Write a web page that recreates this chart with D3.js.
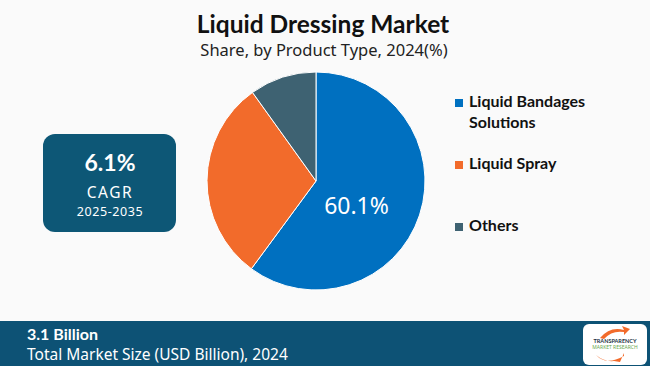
<!DOCTYPE html>
<html lang="en">
<head>
    <meta charset="UTF-8">
    <title>Liquid Dressing Market</title>
    <script src="https://d3js.org/d3.v7.min.js"></script>
    <style>
      body{ margin:0; background:#fafafa; }
      svg{ display:block; }
    </style>
</head>
<body>
    <script>
        // chart data
        const categories = ["Liquid Bandages Solutions", "Liquid Spray", "Others"];
        const legendLines = [["Liquid Bandages", "Solutions"], ["Liquid Spray"], ["Others"]];
        const shares = [60.1, 30.0, 9.9];
        const colors = ["#0070c0", "#f26b2b", "#3e6272"];
        const cagr = "6.1%";
        const cagrPeriod = "2025-2035";
        const marketSize = "3.1 Billion";

        let width = 650;
        let height = 366;
        const boldFont = "Lato, 'Open Sans', sans-serif";
        const lightFont = "'Noto Sans', Lato, sans-serif";

        const svg = d3.select("body").append("svg")
            .attr("width", width)
            .attr("height", height);

        svg.append("rect").attr("width", width).attr("height", height).attr("fill", "#fafafa");

        // titles
        svg.append("text")
            .attr("x", 323).attr("y", 33)
            .attr("text-anchor", "middle")
            .style("font-family", boldFont).style("font-weight", "bold").style("font-size", "24.5px")
            .style("fill", "#111")
            .text("Liquid Dressing Market");
        svg.append("text")
            .attr("x", 324).attr("y", 56)
            .attr("text-anchor", "middle")
            .style("font-family", lightFont).style("font-size", "16.5px")
            .style("fill", "#222")
            .text("Share, by Product Type, 2024(%)");

        // pie
        const cx = 316, cy = 181, r = 109;
        const pie = d3.pie().sort(null).value(d => d);
        const arc = d3.arc().innerRadius(0).outerRadius(r);
        const labelArc = d3.arc().innerRadius(50).outerRadius(50);
        const g = svg.append("g").attr("transform", `translate(${cx},${cy})`);
        const arcs = pie(shares);
        g.selectAll("path")
            .data(arcs)
            .join("path")
            .attr("d", arc)
            .style("fill", (d, i) => colors[i])
            .style("stroke", "#ffffff")
            .style("stroke-width", "1");

        const c = labelArc.centroid(arcs[0]);
        g.append("text")
            .attr("x", c[0] - 7).attr("y", c[1] + 17)
            .attr("text-anchor", "middle")
            .style("font-family", lightFont).style("font-size", "23px")
            .style("fill", "#fff")
            .text(shares[0].toFixed(1) + "%");

        // CAGR box
        const box = svg.append("g");
        box.append("rect")
            .attr("x", 43).attr("y", 134).attr("width", 133).attr("height", 98)
            .attr("rx", 12)
            .style("fill", "#0d5776");
        box.append("text")
            .attr("x", 110).attr("y", 171)
            .attr("text-anchor", "middle")
            .style("font-family", boldFont).style("font-weight", "bold").style("font-size", "23px")
            .style("fill", "#fff").text(cagr);
        box.append("text")
            .attr("x", 110).attr("y", 198)
            .attr("text-anchor", "middle")
            .style("font-family", lightFont).style("font-size", "15.5px")
            .style("letter-spacing", "1.5px")
            .style("fill", "#fff").text("CAGR");
        box.append("text")
            .attr("x", 110).attr("y", 216)
            .attr("text-anchor", "middle")
            .style("font-family", lightFont).style("font-size", "12.5px")
            .style("letter-spacing", "0.6px")
            .style("fill", "#fff").text(cagrPeriod);

        // legend
        const legendY = [107, 169, 231];
        const legend = svg.append("g");
        categories.forEach(function(cat, i) {
            legend.append("rect")
                .attr("x", 455).attr("y", legendY[i] - 8)
                .attr("width", 8).attr("height", 8)
                .style("fill", colors[i]);
            const t = legend.append("text")
                .style("font-family", boldFont).style("font-weight", "bold").style("font-size", "16px")
                .style("fill", "#111");
            legendLines[i].forEach(function(line, j) {
                t.append("tspan").attr("x", 469).attr("y", legendY[i] + j * 21).text(line);
            });
        });

        // bottom band
        svg.append("rect")
            .attr("x", 0).attr("y", 321).attr("width", width).attr("height", 45)
            .style("fill", "#0d5275");
        svg.append("text")
            .attr("x", 27).attr("y", 340)
            .style("font-family", boldFont).style("font-weight", "bold").style("font-size", "16px")
            .style("fill", "#fff").text(marketSize);
        svg.append("text")
            .attr("x", 27).attr("y", 360)
            .style("font-family", lightFont).style("font-size", "15.5px")
            .style("fill", "#fff").text("Total Market Size (USD Billion), 2024");

        // logo
        const logo = svg.append("g");
        logo.append("rect")
            .attr("x", 583).attr("y", 324).attr("width", 64).attr("height", 41).attr("rx", 6)
            .style("fill", "#fff");
        logo.append("path")
            .attr("d", "M600,338 Q610,326 624,330 L622,326 L630,329 L624,335 L624,332 Q612,330 604,339 Z")
            .style("fill", "#f26b2b");
        logo.append("path")
            .attr("d", "M596,355 Q606,366 624,356 L624,353 L620,362 L614,361 Q604,362 596,355 Z")
            .style("fill", "#f26b2b");
        logo.append("text")
            .attr("x", 615).attr("y", 343).attr("text-anchor", "middle")
            .style("font-family", boldFont).style("font-weight", "bold").style("font-size", "5.5px")
            .style("fill", "#234").text("TRANSPARENCY");
        logo.append("text")
            .attr("x", 615).attr("y", 349).attr("text-anchor", "middle")
            .style("font-family", lightFont).style("font-size", "5px")
            .style("fill", "#6aa84f").text("MARKET RESEARCH");
    </script>
</body>
</html>
